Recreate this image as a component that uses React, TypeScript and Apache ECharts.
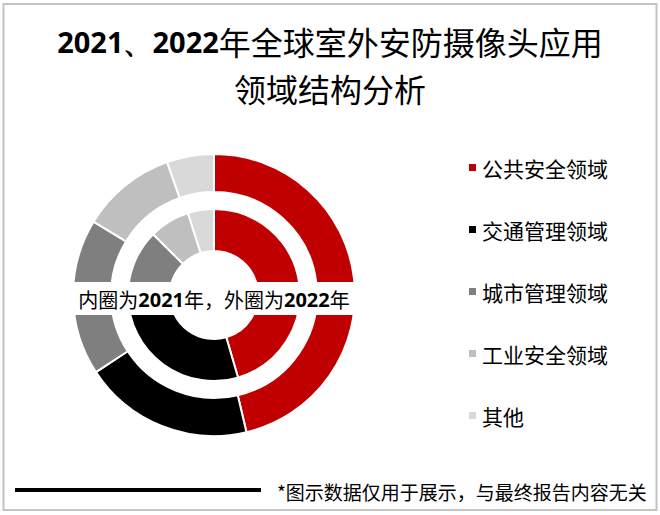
import React, { useEffect, useRef } from "react";
import * as echarts from "echarts";

const categories = ["公共安全领域", "交通管理领域", "城市管理领域", "工业安全领域", "其他"];
const values2021 = [45.5, 28.9, 13.1, 7.6, 4.9];
const values2022 = [46.3, 19.5, 17.9, 10.9, 5.4];
const colors = ["#C00000", "#000000", "#7F7F7F", "#BFBFBF", "#D9D9D9"];
const titleYears = "2021、2022";
const titleRest = "年全球室外安防摄像头应用";
const titleLine2 = "领域结构分析";
const centerNote = "{c|内圈为}{d|2021}{c|年，外圈为}{d|2022}{c|年}";
const footNote = "*图示数据仅用于展示，与最终报告内容无关";

const CJK = "'Noto Sans CJK SC', 'Noto Sans', sans-serif";

export default function App() {
  const ref = useRef<HTMLDivElement>(null);
  useEffect(() => {
    if (!ref.current) return;
    const chart = echarts.init(ref.current, undefined, { renderer: "svg" });
    const mk = (vals: number[]) =>
      categories.map((n, i) => ({ name: n, value: vals[i], itemStyle: { color: colors[i] } }));
    const pieBase = {
      type: "pie",
      center: [214, 295],
      startAngle: 90,
      clockwise: true,
      label: { show: false },
      labelLine: { show: false },
      emphasis: { disabled: true },
      itemStyle: { borderColor: "#ffffff", borderWidth: 2 },
      silent: true,
    };
    chart.setOption({
      animation: false,
      backgroundColor: "#ffffff",
      title: [
        {
          text: `{b|${titleYears}}{n|${titleRest}}`,
          left: "center",
          top: 21,
          padding: 0,
          textStyle: {
            rich: {
              b: { fontSize: 29, fontWeight: "bold", fontFamily: "'Noto Sans', sans-serif", color: "#000", lineHeight: 40 },
              n: { fontSize: 32, fontWeight: "normal", fontFamily: CJK, color: "#000", lineHeight: 40 },
            },
          },
        },
        {
          text: titleLine2,
          left: "center",
          top: 68,
          padding: 0,
          textStyle: { fontSize: 32, fontWeight: "normal", fontFamily: CJK, color: "#000", lineHeight: 40 },
        },
      ],
      legend: {
        orient: "vertical",
        left: 467,
        top: 157,
        padding: 0,
        itemWidth: 9,
        itemHeight: 9,
        itemGap: 41,
        icon: "rect",
        selectedMode: false,
        data: categories,
        textStyle: { fontSize: 21, lineHeight: 21, fontFamily: CJK, color: "#000" },
      },
      series: [
        { ...pieBase, name: "2022", radius: [103, 141], data: mk(values2022) },
        { ...pieBase, name: "2021", radius: [44, 86], data: mk(values2021) },
      ],
      graphic: [
        {
          type: "rect",
          z: 100,
          shape: { x: 3.5, y: 4, width: 653, height: 506 },
          style: { fill: "none", stroke: "#C4C4C4", lineWidth: 2 },
          silent: true,
        },
        {
          type: "rect",
          z: 100,
          shape: { x: 68, y: 282, width: 296, height: 33 },
          style: { fill: "#ffffff" },
          silent: true,
        },
        {
          type: "text",
          z: 101,
          x: 214,
          y: 299,
          style: {
            text: centerNote,
            align: "center",
            verticalAlign: "middle",
            rich: {
              c: { fontSize: 20, fontFamily: CJK, fill: "#000", fontWeight: "normal" },
              d: { fontSize: 20, fontFamily: "'Noto Sans', sans-serif", fill: "#000", fontWeight: "bold" },
            },
          },
          silent: true,
        },
        {
          type: "line",
          z: 100,
          shape: { x1: 15, y1: 490, x2: 261, y2: 490 },
          style: { stroke: "#000", lineWidth: 4 },
          silent: true,
        },
        {
          type: "text",
          z: 100,
          x: 277,
          y: 491,
          style: {
            text: footNote,
            fontSize: 19,
            fontFamily: CJK,
            fill: "#000",
            align: "left",
            verticalAlign: "middle",
          },
          silent: true,
        },
      ],
    });
    return () => chart.dispose();
  }, []);
  return (
    <div
      ref={ref}
      style={{ position: "fixed", left: 0, top: 0, width: 660, height: 515 }}
    />
  );
}
